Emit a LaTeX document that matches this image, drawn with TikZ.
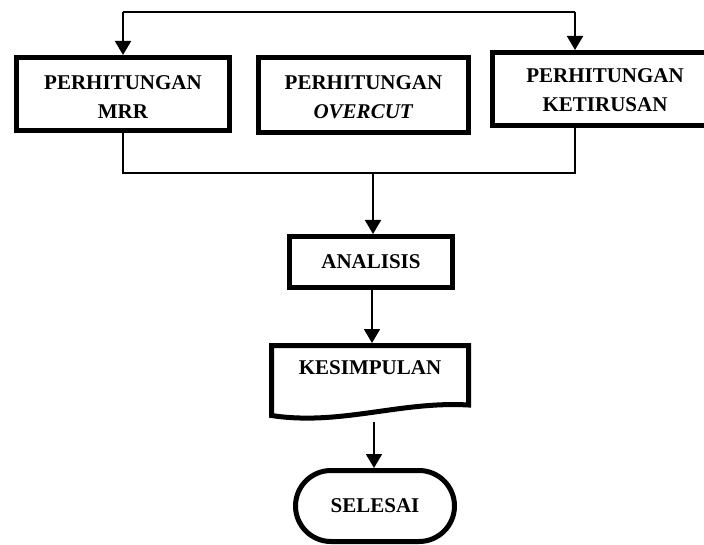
\documentclass[tikz,border=0pt]{standalone}
\usepackage{fontspec}
\setmainfont{Liberation Serif}
\usetikzlibrary{arrows.meta,shapes.misc}
\tikzset{
  x=1pt,y=-1pt,
  boxnode/.style={draw,line width=5pt,rectangle,inner sep=0pt,align=center,
    font=\fontsize{21}{29}\selectfont\bfseries},
  boxtext/.style={font=\fontsize{21}{29}\selectfont\bfseries,align=center,inner sep=0pt},
  conn/.style={line width=1.8pt},
  arr/.style={line width=1.8pt,-{Triangle[width=16pt,length=14pt]}},
}
\begin{document}
\begin{tikzpicture}
\clip (0,0) rectangle (704,545);
\fill[white] (0,0) rectangle (704,545);
% boxes
\node[boxnode,minimum width=213pt,minimum height=73pt,
  label={[boxtext,yshift=-3.5pt]center:PERHITUNGAN\\MRR}] (b1) at (123,94) {};
\node[boxnode,minimum width=210pt,minimum height=75pt,
  label={[boxtext,yshift=-2.5pt]center:PERHITUNGAN\\\textit{OVERCUT}}] (b2) at (363.5,95) {};
\node[boxnode,minimum width=226pt,minimum height=73pt,
  label={[boxtext,yshift=-1pt]center:PERHITUNGAN\\KETIRUSAN}] (b3) at (605,89) {};
\node[boxnode,minimum width=163pt,minimum height=51pt] (ana) at (371,262) {ANALISIS};
% document shape
\draw[line width=5pt,line join=miter] (271.5,345.5) -- (468.5,345.5) -- (468.5,405)
  .. controls (400,401) and (340,426) .. (271.5,415.5) -- cycle;
\node[boxtext] (kes) at (370,368) {KESIMPULAN};
\coordinate (kestop) at (372,343);
\coordinate (kesbot) at (374,422);
\node[draw,line width=5pt,rounded rectangle,minimum width=159pt,minimum height=71pt,
  inner sep=0pt,font=\fontsize{21}{29}\selectfont\bfseries] (sel) at (375,506) {SELESAI};
% connectors
\coordinate (t1) at (123,11.7);
\coordinate (t2) at (575,11.7);
\coordinate (j) at (373,173);
\draw[conn] (t1) -- (t2);
\draw[arr] (t1) -- (t1 |- b1.north);
\draw[arr] (t2) -- (t2 |- b3.north);
\draw[conn] (b1.south) |- (j) -| (t2 |- b3.south);
\draw[arr] (j) -- (j |- ana.north);
\draw[arr] (ana.south -| kestop) -- (kestop);
\draw[arr] (kesbot) -- (kesbot |- sel.north);
\end{tikzpicture}
\end{document}
